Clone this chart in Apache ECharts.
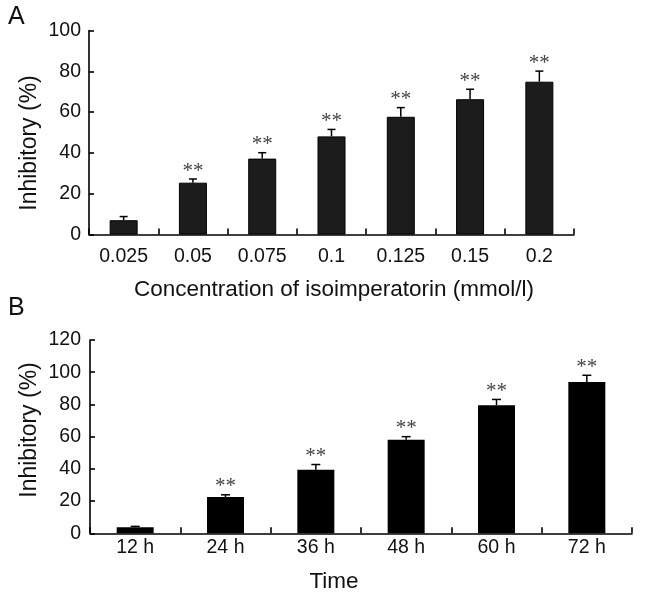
<!DOCTYPE html>
<html>
<head>
<meta charset="utf-8">
<script src="https://cdn.jsdelivr.net/npm/echarts@6/dist/echarts.min.js"></script>
<style>html,body{margin:0;padding:0;background:#fff}#c{width:646px;height:600px}</style>
</head>
<body>
<div id="c"></div>
<script>
// Panel A data
const concLabels = ['0.025', '0.05', '0.075', '0.1', '0.125', '0.15', '0.2'];
const inhibA = [7.0, 25.4, 37.2, 48.1, 57.7, 66.3, 74.9];
const errA = [1.8, 1.8, 2.9, 3.4, 4.5, 4.9, 5.2];
const sigA = ['', '**', '**', '**', '**', '**', '**'];
const yTicksA = [0, 20, 40, 60, 80, 100];

// Panel B data
const timeLabels = ['12 h', '24 h', '36 h', '48 h', '60 h', '72 h'];
const inhibB = [3.8, 22.5, 39.5, 58.0, 79.5, 94.0];
const errB = [0.5, 1.4, 3.2, 2.0, 3.6, 4.1];
const sigB = ['', '**', '**', '**', '**', '**'];
const yTicksB = [0, 20, 40, 60, 80, 100, 120];

const FONT = 'Liberation Sans, Arial, Helvetica, sans-serif';

function errRender(errs, sigs, capW) {
  return function (params, api) {
    const i = api.value(0), v = api.value(1), e = errs[i];
    const base = api.coord([i, v]);
    const top = api.coord([i, v + e]);
    const children = [
      { type: 'line', shape: { x1: base[0], y1: base[1], x2: top[0], y2: top[1] }, style: { stroke: '#000', lineWidth: 1.5 } },
      { type: 'line', shape: { x1: top[0] - capW / 2, y1: top[1], x2: top[0] + capW / 2, y2: top[1] }, style: { stroke: '#000', lineWidth: 1.5 } }
    ];
    if (sigs[i]) {
      children.push({ type: 'text', x: top[0], y: top[1] - 8, style: { text: sigs[i], fill: '#444', font: '21px Liberation Serif, Times New Roman, serif', textAlign: 'center', textVerticalAlign: 'middle' } });
    }
    return { type: 'group', children: children };
  };
}

const axisLine = { show: true, lineStyle: { color: '#000', width: 1.6 } };

const chart = echarts.init(document.getElementById('c'));
chart.setOption({
  animation: false,
  backgroundColor: '#fff',
  grid: [
    { left: 89, width: 485, top: 30.5, height: 204 },
    { left: 90, width: 542, top: 340, height: 193.3 }
  ],
  xAxis: [
    { type: 'category', gridIndex: 0, data: concLabels, axisLine: axisLine,
      axisTick: { show: true, inside: true, length: 6, lineStyle: { color: '#000', width: 1.6 } },
      axisLabel: { color: '#111', fontSize: 19.5, fontFamily: FONT, margin: 12 } },
    { type: 'category', gridIndex: 1, data: timeLabels, axisLine: axisLine,
      axisTick: { show: true, inside: true, length: 6, lineStyle: { color: '#000', width: 1.6 } },
      axisLabel: { color: '#111', fontSize: 19.5, fontFamily: FONT, margin: 4 } }
  ],
  yAxis: [
    { type: 'value', gridIndex: 0, min: yTicksA[0], max: yTicksA[yTicksA.length - 1], interval: 20, axisLine: axisLine,
      axisTick: { show: true, inside: true, length: 5, lineStyle: { color: '#000', width: 1.6 } },
      splitLine: { show: false },
      axisLabel: { color: '#111', fontSize: 19.5, fontFamily: FONT, margin: 8 } },
    { type: 'value', gridIndex: 1, min: yTicksB[0], max: yTicksB[yTicksB.length - 1], interval: 20, axisLine: axisLine,
      axisTick: { show: true, inside: true, length: 5, lineStyle: { color: '#000', width: 1.6 } },
      splitLine: { show: false },
      axisLabel: { color: '#111', fontSize: 19.5, fontFamily: FONT, margin: 9 } }
  ],
  series: [
    { type: 'bar', xAxisIndex: 0, yAxisIndex: 0, data: inhibA, barWidth: 28,
      itemStyle: { color: '#1c1c1c', borderColor: '#000', borderWidth: 1 } },
    { type: 'custom', xAxisIndex: 0, yAxisIndex: 0, data: inhibA.map((v, i) => [i, v]),
      renderItem: errRender(errA, sigA, 8), z: 3 },
    { type: 'bar', xAxisIndex: 1, yAxisIndex: 1, data: inhibB, barWidth: 37,
      itemStyle: { color: '#000' } },
    { type: 'custom', xAxisIndex: 1, yAxisIndex: 1, data: inhibB.map((v, i) => [i, v]),
      renderItem: errRender(errB, sigB, 9), z: 3 }
  ],
  graphic: [
    { type: 'text', left: 8, top: 5, style: { text: 'A', font: '25px ' + FONT, fill: '#111' } },
    { type: 'text', left: 8, top: 296, style: { text: 'B', font: '25px ' + FONT, fill: '#111' } },
    { type: 'text', x: 30, y: 143, rotation: Math.PI / 2, style: { text: 'Inhibitory (%)', font: '23px ' + FONT, fill: '#111', textAlign: 'center', textVerticalAlign: 'middle' } },
    { type: 'text', x: 30, y: 430, rotation: Math.PI / 2, style: { text: 'Inhibitory (%)', font: '23px ' + FONT, fill: '#111', textAlign: 'center', textVerticalAlign: 'middle' } },
    { type: 'text', x: 334, y: 290, style: { text: 'Concentration of isoimperatorin (mmol/l)', font: '22.5px ' + FONT, fill: '#111', textAlign: 'center', textVerticalAlign: 'middle' } },
    { type: 'text', x: 334, y: 582, style: { text: 'Time', font: '22.5px ' + FONT, fill: '#111', textAlign: 'center', textVerticalAlign: 'middle' } }
  ]
});
</script>
</body>
</html>
